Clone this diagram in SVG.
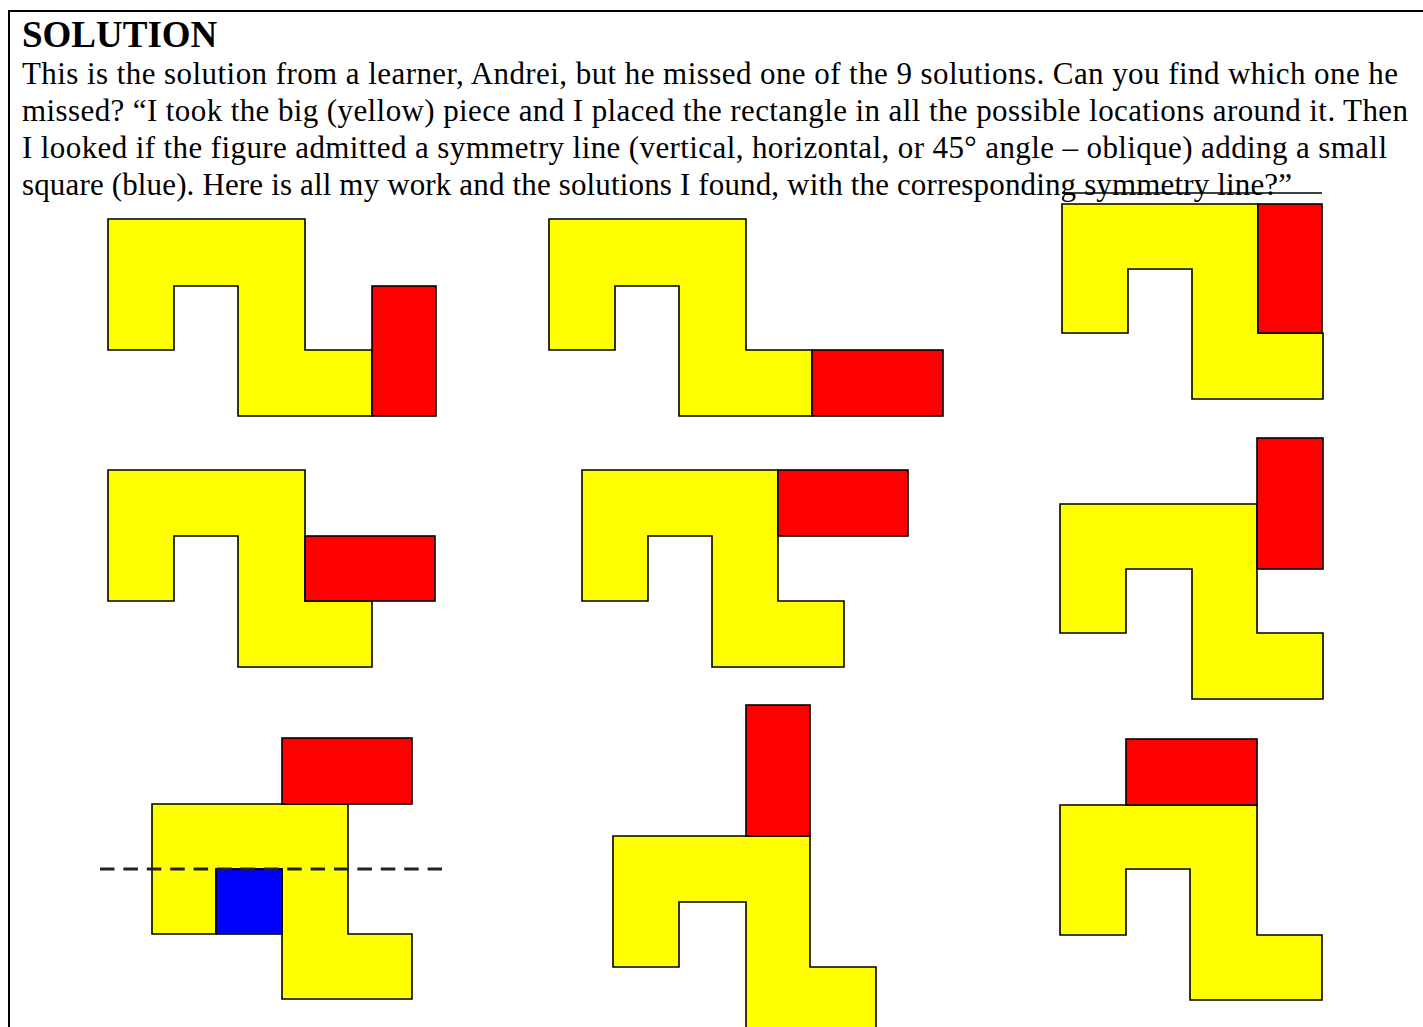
<svg xmlns="http://www.w3.org/2000/svg" width="1423" height="1027" viewBox="0 0 1423 1027">
<style>
.y{fill:#ffff00;stroke:#000;stroke-width:1.6;stroke-linejoin:miter}
.r{fill:#ff0000;stroke:#000;stroke-width:1.6}
.b{fill:#0000ff;stroke:#000;stroke-width:1.6}
.t{font-family:"Liberation Serif","Times New Roman",serif;font-size:31px;fill:#000}
.h{font-family:"Liberation Serif","Times New Roman",serif;font-size:37px;font-weight:bold;fill:#000}
</style>
<rect width="1423" height="1027" fill="#fff"/>
<g id="frame" stroke="#000" stroke-width="2" fill="none">
<line x1="8" y1="11" x2="1423" y2="11"/>
<line x1="9" y1="11" x2="9" y2="1027"/>
</g>
<g id="text">
<text class="h" x="22" y="47">SOLUTION</text>
<text class="t" x="22" y="84" textLength="1376" lengthAdjust="spacing">This is the solution from a learner, Andrei, but he missed one of the 9 solutions. Can you find which one he</text>
<text class="t" x="22" y="121" textLength="1386" lengthAdjust="spacing">missed? “I took the big (yellow) piece and I placed the rectangle in all the possible locations around it. Then</text>
<text class="t" x="22" y="158" textLength="1365" lengthAdjust="spacing">I looked if the figure admitted a symmetry line (vertical, horizontal, or 45° angle – oblique) adding a small</text>
<text class="t" x="22" y="195" textLength="1270" lengthAdjust="spacing">square (blue). Here is all my work and the solutions I found, with the corresponding symmetry line?”</text>
</g>
<g id="shape1">
<path class="y" d="M108,219 H305 V350 H372 V416 H238 V286 H174 V350 H108 Z"/>
<rect class="r" x="372" y="286" width="64" height="130"/>
</g>
<g id="shape2">
<path class="y" d="M549,219 H746 V350 H812 V416 H679 V286 H615 V350 H549 Z"/>
<rect class="r" x="812" y="350" width="131" height="66"/>
</g>
<g id="shape3">
<line x1="1062" y1="193" x2="1322" y2="193" stroke="#000" stroke-width="1.5"/>
<path class="y" d="M1062,204 H1258 V333 H1323 V399 H1192 V269 H1128 V333 H1062 Z"/>
<rect class="r" x="1258" y="204" width="64" height="129"/>
</g>
<g id="shape4">
<path class="y" d="M108,470 H305 V601 H372 V667 H238 V536 H174 V601 H108 Z"/>
<rect class="r" x="305" y="536" width="130" height="65"/>
</g>
<g id="shape5">
<path class="y" d="M582,470 H778 V601 H844 V667 H712 V536 H648 V601 H582 Z"/>
<rect class="r" x="778" y="470" width="130" height="66"/>
</g>
<g id="shape6">
<path class="y" d="M1060,504 H1257 V633 H1323 V699 H1192 V569 H1126 V633 H1060 Z"/>
<rect class="r" x="1257" y="438" width="66" height="131"/>
</g>
<g id="shape7">
<path class="y" d="M152,804 H348 V934 H412 V999 H282 V869 H216 V934 H152 Z"/>
<rect class="r" x="282" y="738" width="130" height="66"/>
<rect class="b" x="216" y="869" width="66" height="65"/>
</g>
<g id="shape8">
<path class="y" d="M613,836 H810 V967 H876 V1033 H746 V902 H679 V967 H613 Z"/>
<rect class="r" x="746" y="705" width="64" height="131"/>
</g>
<g id="shape9">
<path class="y" d="M1060,805 H1257 V935 H1322 V1000 H1190 V869 H1126 V935 H1060 Z"/>
<rect class="r" x="1126" y="739" width="131" height="66"/>
</g>
<g id="connectors">
<line id="symmetry-line" x1="100" y1="869" x2="442" y2="869" stroke="#222" stroke-width="3" stroke-dasharray="14.5 8.9"/>
</g>
</svg>
